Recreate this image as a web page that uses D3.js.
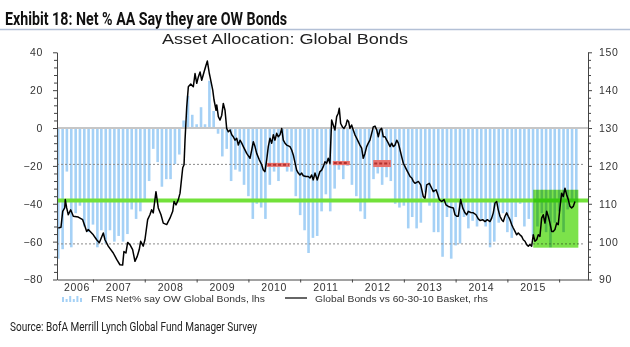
<!DOCTYPE html>
<html>
<head>
<meta charset="utf-8">
<script src="https://cdn.jsdelivr.net/npm/d3@7"></script>
<style>
  html, body { margin: 0; padding: 0; background: #fff; }
  svg { display: block; }
  .tick text { font-family: "Liberation Sans", Arial, sans-serif; fill: #333; }
</style>
</head>
<body>
<svg id="chart" width="630" height="347"></svg>
<script>
// FMS net % overweight bonds, monthly from May 2006 (lhs)
const fmsStart = new Date(2006, 4, 1)
const fmsNet = [
  -69, -64, -23, -63, -45, -41, -52, -55,
  -51, -63, -54, -61, -54, -60, -57, -60, -56, -43, -48, -44,
  -39, -28, -11, -18, -31, -27, -27, -19, -14, 4, 17, 7,
  2, 11, 2, 25, 9, -3, -15, -11, -28, -22, -23, -30,
  -36, -48, -40, -42, -48, -30, -23, -28, -20, -23, -23, -36,
  -46, -54, -66, -58, -57, -44, -35, -44, -32, -22, -27, -20,
  -30, -36, -44, -48, -38, -27, -24, -30, -26, -28, -40, -42,
  -41, -53, -47, -53, -50, -34, -41, -55, -55, -68, -47, -69,
  -62, -61, -47, -53, -49, -52, -48, -52, -63, -60, -50, -45,
  -55, -58, -47, -40, -52, -48, -57, -52, -45, -55, -63, -50,
  -44, -55, -43, -38, -39
]

// Global bonds vs 60-30-10 basket (rhs), dates as decimal years
const bondDates = [
  2006.330, 2006.382, 2006.415, 2006.454, 2006.465, 2006.492, 2006.523, 2006.569, 2006.620, 2006.716,
  2006.801, 2006.846, 2006.878, 2006.909, 2007.006, 2007.071, 2007.122, 2007.199, 2007.232, 2007.295,
  2007.392, 2007.458, 2007.521, 2007.573, 2007.598, 2007.637, 2007.670, 2007.714, 2007.766, 2007.811,
  2007.855, 2007.894, 2007.921, 2007.971, 2008.004, 2008.056, 2008.100, 2008.133, 2008.164, 2008.216,
  2008.261, 2008.313, 2008.357, 2008.423, 2008.486, 2008.539, 2008.564, 2008.602, 2008.647, 2008.680,
  2008.732, 2008.757, 2008.776, 2008.809, 2008.840, 2008.886, 2008.936, 2008.969, 2009.002, 2009.033,
  2009.066, 2009.098, 2009.143, 2009.181, 2009.207, 2009.245, 2009.259, 2009.311, 2009.336, 2009.375,
  2009.388, 2009.419, 2009.452, 2009.485, 2009.515, 2009.548, 2009.580, 2009.612, 2009.645, 2009.678,
  2009.708, 2009.741, 2009.774, 2009.805, 2009.838, 2009.871, 2009.902, 2009.967, 2010.031, 2010.064,
  2010.095, 2010.127, 2010.160, 2010.210, 2010.257, 2010.288, 2010.320, 2010.353, 2010.384, 2010.417,
  2010.450, 2010.481, 2010.514, 2010.546, 2010.577, 2010.610, 2010.643, 2010.674, 2010.707, 2010.739,
  2010.803, 2010.836, 2010.867, 2010.932, 2010.963, 2010.996, 2011.029, 2011.060, 2011.112, 2011.156,
  2011.189, 2011.222, 2011.253, 2011.286, 2011.330, 2011.382, 2011.415, 2011.446, 2011.479, 2011.512,
  2011.542, 2011.575, 2011.608, 2011.639, 2011.672, 2011.705, 2011.736, 2011.755, 2011.782, 2011.821,
  2011.846, 2011.884, 2011.909, 2011.936, 2011.961, 2011.994, 2012.025, 2012.058, 2012.091, 2012.122,
  2012.154, 2012.187, 2012.218, 2012.251, 2012.284, 2012.315, 2012.347, 2012.380, 2012.411, 2012.444,
  2012.477, 2012.508, 2012.541, 2012.573, 2012.604, 2012.637, 2012.670, 2012.701, 2012.734, 2012.766,
  2012.797, 2012.830, 2012.863, 2012.894, 2012.927, 2012.959, 2012.990, 2013.023, 2013.056, 2013.087,
  2013.120, 2013.153, 2013.183, 2013.216, 2013.280, 2013.326, 2013.376, 2013.409, 2013.442, 2013.492,
  2013.539, 2013.569, 2013.622, 2013.647, 2013.685, 2013.732, 2013.776, 2013.815, 2013.859, 2013.905,
  2013.956, 2013.988, 2014.021, 2014.052, 2014.098, 2014.137, 2014.181, 2014.214, 2014.245, 2014.292,
  2014.342, 2014.394, 2014.438, 2014.471, 2014.523, 2014.568, 2014.612, 2014.664, 2014.697, 2014.728,
  2014.761, 2014.793, 2014.824, 2014.857, 2014.890, 2014.921, 2014.954, 2014.986, 2015.017, 2015.050,
  2015.083, 2015.114, 2015.147, 2015.180, 2015.210, 2015.243, 2015.276, 2015.307, 2015.340, 2015.373,
  2015.404, 2015.436, 2015.469, 2015.500, 2015.533, 2015.566, 2015.597, 2015.629, 2015.662, 2015.693,
  2015.726, 2015.759, 2015.790, 2015.822, 2015.855, 2015.886, 2015.919, 2015.952, 2015.983, 2016.015,
  2016.048, 2016.079, 2016.112, 2016.145, 2016.176, 2016.208, 2016.241, 2016.272, 2016.305
]
const bondLevels = [
  103.6, 103.8, 108.0, 108.9, 111.1, 108.9, 107.1, 108.4, 106.7, 106.5,
  105.8, 104.0, 102.7, 103.2, 101.8, 100.5, 99.7, 102.3, 100.5, 98.8,
  97.0, 95.3, 93.9, 93.8, 97.4, 97.0, 99.8, 99.2, 97.9, 94.8,
  96.1, 97.9, 100.1, 98.8, 100.5, 105.8, 107.1, 108.4, 107.6, 113.2,
  108.9, 107.1, 104.9, 104.5, 106.2, 108.0, 110.6, 109.7, 111.1, 112.8,
  119.5, 120.3, 126.8, 135.6, 140.9, 141.6, 140.9, 144.4, 141.8, 143.5,
  144.8, 142.6, 144.8, 146.6, 147.7, 144.4, 143.5, 140.0, 137.4, 134.7,
  136.1, 133.0, 132.1, 133.4, 136.5, 134.7, 129.9, 129.0, 129.5, 128.2,
  127.7, 126.8, 127.3, 125.5, 126.8, 126.0, 125.1, 123.3, 122.0, 124.2,
  126.4, 125.1, 123.3, 121.6, 120.3, 118.9, 118.5, 121.6, 125.1, 127.3,
  126.0, 128.2, 126.8, 128.6, 127.7, 128.2, 129.9, 126.8, 126.0, 125.5,
  125.1, 124.2, 122.9, 118.9, 118.1, 117.6, 118.1, 117.4, 117.2, 117.2,
  116.8, 117.6, 116.3, 118.1, 116.3, 118.5, 118.9, 119.8, 121.1, 120.7,
  122.0, 120.7, 132.1, 130.8, 129.5, 133.0, 133.9, 135.2, 131.2, 130.2,
  129.9, 130.8, 132.1, 131.7, 129.9, 130.8, 129.5, 128.2, 127.3, 126.4,
  125.5, 124.7, 122.0, 123.3, 125.1, 126.0, 126.8, 128.6, 130.3, 130.5,
  129.5, 127.7, 129.5, 129.9, 127.7, 127.7, 126.8, 126.0, 125.1, 126.0,
  125.1, 125.5, 126.8, 126.0, 124.2, 122.4, 120.7, 119.8, 118.9, 118.1,
  117.2, 116.8, 115.9, 115.4, 115.9, 115.0, 111.9, 111.5, 115.0, 115.4,
  114.1, 113.2, 113.7, 112.8, 111.1, 110.6, 111.1, 109.7, 109.3, 109.1,
  108.9, 107.1, 106.7, 106.7, 111.1, 108.9, 107.6, 107.1, 108.0, 107.7,
  107.6, 107.1, 106.0, 105.6, 105.8, 105.3, 105.8, 105.3, 106.2, 107.6,
  110.2, 110.6, 108.4, 106.7, 105.8, 105.3, 106.7, 107.6, 106.7, 105.8,
  104.5, 103.6, 102.7, 101.8, 102.3, 101.8, 101.4, 100.5, 100.1, 99.2,
  98.8, 99.2, 98.8, 101.8, 100.1, 100.5, 101.8, 101.4, 106.2, 107.1,
  104.9, 108.0, 106.7, 104.9, 102.7, 102.7, 103.2, 104.9, 104.5, 108.9,
  112.8, 111.9, 114.1, 112.4, 111.1, 109.3, 108.9, 109.3, 110.6
]

const yearLabels = ["2006", "2007", "2008", "2009", "2010", "2011", "2012", "2013", "2014", "2015"]
const leftTicks = [-80, -60, -40, -20, 0, 20, 40]
const rightTicks = [90, 100, 110, 120, 130, 140, 150]

// reference levels on the rhs scale
const dottedLevels = [120.4, 99.4]
const greenLevel = 110.85
// red markers: [from, to, lhs low, lhs high]
const redMarks = [
  [2010.36, 2010.80, -20.5, -18.4],
  [2011.63, 2011.96, -19.6, -17.4],
  [2012.41, 2012.75, -20.6, -16.9]
]
// highlighted recent range: [from, to, rhs low, rhs high]
const highlightBox = [2015.50, 2016.37, 98.4, 113.7]

const margin = { top: 52.3, bottom: 279.5, left: 57, right: 588 }

function fromYear(y) {
  const yr = Math.floor(y)
  const start = new Date(yr, 0, 1), end = new Date(yr + 1, 0, 1)
  return new Date(+start + (y - yr) * (end - start))
}

const x = d3.scaleTime()
  .domain([fromYear(2006.305), fromYear(2016.556)])
  .range([margin.left, margin.right])
const yL = d3.scaleLinear().domain([-80, 40]).range([margin.bottom, margin.top])
const yR = d3.scaleLinear().domain([90, 150]).range([margin.bottom, margin.top])

const svg = d3.select("#chart")

// headline
svg.append("text")
  .attr("x", 5).attr("y", 25)
  .attr("font-family", "'Liberation Sans Narrow', 'Roboto', sans-serif")
  .attr("font-weight", "bold")
  .attr("font-size", 17.5)
  .attr("fill", "#111")
  .attr("textLength", 282)
  .attr("lengthAdjust", "spacingAndGlyphs")
  .text("Exhibit 18: Net % AA Say they are OW Bonds")
svg.append("line")
  .attr("x1", 0).attr("x2", 630)
  .attr("y1", 29.5).attr("y2", 29.5)
  .attr("stroke", "#b3c0d6").attr("stroke-width", 1.5)

svg.append("text")
  .attr("x", 162).attr("y", 43.5)
  .attr("font-family", "'Liberation Sans', Arial, sans-serif")
  .attr("font-size", 14.5)
  .attr("fill", "#222")
  .attr("textLength", 246)
  .attr("lengthAdjust", "spacingAndGlyphs")
  .text("Asset Allocation: Global Bonds")

// monthly survey bars
const barData = fmsNet.map((v, i) => ({ date: d3.timeMonth.offset(fmsStart, i), value: v }))
svg.append("g")
  .selectAll("rect")
  .data(barData)
  .join("rect")
    .attr("x", d => x(d.date) - 1.3)
    .attr("y", d => yL(Math.max(0, d.value)))
    .attr("width", 2.6)
    .attr("height", d => Math.abs(yL(d.value) - yL(0)))
    .attr("fill", "#a5d1f6")

// zero line, dotted bands, green level
svg.append("line")
  .attr("x1", margin.left).attr("x2", margin.right)
  .attr("y1", yL(0)).attr("y2", yL(0))
  .attr("stroke", "#c6c6c6").attr("stroke-width", 2)

svg.append("g")
  .selectAll("line")
  .data(dottedLevels)
  .join("line")
    .attr("x1", margin.left).attr("x2", margin.right - 3)
    .attr("y1", d => yR(d)).attr("y2", d => yR(d))
    .attr("stroke", "#8a8a8a").attr("stroke-width", 1)
    .attr("stroke-dasharray", "2,2")

svg.append("line")
  .attr("x1", margin.left).attr("x2", margin.right)
  .attr("y1", yR(greenLevel)).attr("y2", yR(greenLevel))
  .attr("stroke", "#72e13a").attr("stroke-width", 4)

// red markers
const reds = svg.append("g")
reds.selectAll("rect")
  .data(redMarks)
  .join("rect")
    .attr("x", d => x(fromYear(d[0])))
    .attr("width", d => x(fromYear(d[1])) - x(fromYear(d[0])))
    .attr("y", d => yL(d[3]))
    .attr("height", d => yL(d[2]) - yL(d[3]))
    .attr("fill", "#e8716c")
reds.selectAll("line")
  .data(redMarks)
  .join("line")
    .attr("x1", d => x(fromYear(d[0])) + 1)
    .attr("x2", d => x(fromYear(d[1])) - 1)
    .attr("y1", d => yL((d[2] + d[3]) / 2))
    .attr("y2", d => yL((d[2] + d[3]) / 2))
    .attr("stroke", "#b3302d").attr("stroke-width", 2)
    .attr("stroke-dasharray", "3,2")

// green highlight box over the latest readings
svg.append("rect")
  .attr("x", x(fromYear(highlightBox[0])))
  .attr("width", x(fromYear(highlightBox[1])) - x(fromYear(highlightBox[0])))
  .attr("y", yR(highlightBox[3]))
  .attr("height", yR(highlightBox[2]) - yR(highlightBox[3]))
  .attr("fill", "#7ce24b")
  .style("mix-blend-mode", "multiply")

// bonds vs basket line
const bondData = bondDates.map((t, i) => ({ date: fromYear(t), value: bondLevels[i] }))
const line = d3.line()
  .x(d => x(d.date))
  .y(d => yR(d.value))
svg.append("path")
  .datum(bondData)
  .attr("fill", "none")
  .attr("stroke", "#000")
  .attr("stroke-width", 1.5)
  .attr("stroke-linejoin", "round")
  .attr("d", line)

// axes
function styleAxis(g) {
  g.select(".domain").attr("stroke", "#444")
  g.selectAll(".tick line").attr("stroke", "#444")
  g.selectAll(".tick text").attr("font-size", 10.5).attr("letter-spacing", "0.6px")
}

const minorLeft = d3.range(-80, 41, 4).filter(v => !leftTicks.includes(v))
svg.append("g")
  .attr("transform", `translate(${margin.left},0)`)
  .call(d3.axisLeft(yL).tickValues(minorLeft).tickSize(3).tickSizeOuter(0).tickFormat(""))
  .call(styleAxis)
svg.append("g")
  .attr("transform", `translate(${margin.left},0)`)
  .call(d3.axisLeft(yL).tickValues(leftTicks).tickSize(4).tickSizeOuter(0).tickPadding(10))
  .call(styleAxis)

const minorRight = d3.range(90, 151, 2).filter(v => !rightTicks.includes(v))
svg.append("g")
  .attr("transform", `translate(${margin.right},0)`)
  .call(d3.axisRight(yR).tickValues(minorRight).tickSize(3).tickSizeOuter(0).tickFormat(""))
  .call(styleAxis)
svg.append("g")
  .attr("transform", `translate(${margin.right},0)`)
  .call(d3.axisRight(yR).tickValues(rightTicks).tickSize(4).tickSizeOuter(0).tickPadding(7))
  .call(styleAxis)

const yearTicks = d3.range(2007, 2017).map(y => new Date(y, 0, 1))
svg.append("g")
  .attr("transform", `translate(0,${margin.bottom})`)
  .call(d3.axisBottom(x).tickValues(yearTicks).tickSize(3).tickSizeOuter(0).tickFormat(""))
  .call(styleAxis)

// year labels sit mid-year, the first one nudged inside the axis
svg.append("g")
  .selectAll("text")
  .data(yearLabels)
  .join("text")
    .attr("x", d => Math.max(x(new Date(+d, 6, 1)), margin.left + 20))
    .attr("y", 290.5)
    .attr("text-anchor", "middle")
    .attr("font-family", "'Liberation Sans', Arial, sans-serif")
    .attr("font-size", 10.5)
    .attr("letter-spacing", "0.6px")
    .attr("fill", "#333")
    .text(d => d)

// legend
const legend = svg.append("g")
const iconBars = [5, 3, 6, 3, 6, 4]
legend.selectAll("rect")
  .data(iconBars)
  .join("rect")
    .attr("x", (d, i) => 62 + i * 3.6)
    .attr("y", d => 302 - d)
    .attr("width", 2)
    .attr("height", d => d)
    .attr("fill", "#a5d1f6")
legend.append("text")
  .attr("x", 91).attr("y", 302)
  .attr("font-family", "'Liberation Sans', Arial, sans-serif")
  .attr("font-size", 9.5)
  .attr("fill", "#333")
  .attr("textLength", 174)
  .attr("lengthAdjust", "spacingAndGlyphs")
  .text("FMS Net% say OW Global Bonds, lhs")
legend.append("line")
  .attr("x1", 285).attr("x2", 307)
  .attr("y1", 298).attr("y2", 298)
  .attr("stroke", "#000").attr("stroke-width", 1.2)
legend.append("text")
  .attr("x", 315).attr("y", 302)
  .attr("font-family", "'Liberation Sans', Arial, sans-serif")
  .attr("font-size", 9.5)
  .attr("fill", "#333")
  .attr("textLength", 173)
  .attr("lengthAdjust", "spacingAndGlyphs")
  .text("Global Bonds vs 60-30-10 Basket, rhs")

svg.append("text")
  .attr("x", 10).attr("y", 331)
  .attr("font-family", "'Liberation Sans Narrow', 'Roboto', sans-serif")
  .attr("font-size", 13)
  .attr("fill", "#222")
  .attr("textLength", 247)
  .attr("lengthAdjust", "spacingAndGlyphs")
  .text("Source: BofA Merrill Lynch Global Fund Manager Survey")
</script>
</body>
</html>
